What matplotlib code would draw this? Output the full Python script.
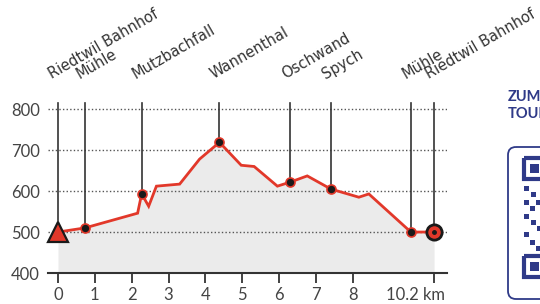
import numpy as np
import matplotlib.pyplot as plt
import matplotlib.transforms as mtransforms
from matplotlib.patches import FancyBboxPatch, Rectangle

# Höhenprofil (km, m ü. M.)
profile_km = [0, 0.73, 2.16, 2.27, 2.46, 2.67, 3.3, 3.84, 4.38, 4.97, 5.32,
              5.95, 6.3, 6.76, 7.4, 8.16, 8.43, 9.57, 10.2]
profile_elev = [500, 510, 546, 593, 563, 612, 617, 678, 719, 663, 660,
                612, 622, 637, 605, 585, 593, 500, 500]

# Stationen
station_names = ['Riedtwil Bahnhof', 'Mühle', 'Mutzbachfall', 'Wannenthal',
                 'Oschwand', 'Spych', 'Mühle', 'Riedtwil Bahnhof']
station_km = [0, 0.73, 2.27, 4.38, 6.3, 7.4, 9.57, 10.2]

x_ticks = [0, 1, 2, 3, 4, 5, 6, 7, 8, 10.2]
x_ticklabels = ['0', '1', '2', '3', '4', '5', '6', '7', '8', '10.2 km']
y_ticks = [400, 500, 600, 700, 800]

red = '#e2382a'
dark = '#333333'
blue = '#2f3a88'

fig = plt.figure(figsize=(5.4, 3.04), dpi=100)
fig.patch.set_facecolor('white')

# Hintergrund-Achse in Pixeln für Deko rechts
bg = fig.add_axes([0, 0, 1, 1])
bg.set_xlim(0, 540)
bg.set_ylim(304, 0)
bg.axis('off')

ax = fig.add_axes([48 / 540, 31 / 304, 399 / 540, 170 / 304])
ax.set_xlim(-0.27, 10.55)
ax.set_ylim(400, 815)
ax.patch.set_alpha(0)

for s in ['left', 'right', 'top']:
    ax.spines[s].set_visible(False)
ax.spines['bottom'].set_color(dark)
ax.spines['bottom'].set_linewidth(1.5)

# Gitterlinien
for y in y_ticks[1:]:
    ax.axhline(y, color='#555555', lw=1, ls=(0, (1, 1.6)), zorder=1)

# Fläche und Linie
ax.fill_between(profile_km, profile_elev, 400, color='#ebebeb', lw=0, zorder=0)
ax.plot(profile_km, profile_elev, color=red, lw=2, zorder=3, solid_joinstyle='miter')

# Stationen
station_elev = np.interp(station_km, profile_km, profile_elev)
for name, km, el in zip(station_names, station_km, station_elev):
    ax.plot([km, km], [el, 815], color=dark, lw=1.2, zorder=2, clip_on=False)
    ax.annotate(name, xy=(km, 1.0), xycoords=('data', 'axes fraction'),
                xytext=(-4, 17), textcoords='offset points',
                rotation=30, rotation_mode='anchor', ha='left', va='baseline',
                fontsize=10.5, color=dark, family='DejaVu Sans')

inner_km = station_km[1:-1]
inner_elev = station_elev[1:-1]
ax.plot(inner_km, inner_elev, 'o', ms=6.5, mfc='#1a1a1a', mec=red, mew=1.2, zorder=5)
ax.plot(station_km[0], station_elev[0], '^', ms=14, mfc=red, mec='#1a1a1a',
        mew=1.6, zorder=6, clip_on=False)
ax.plot(station_km[-1], station_elev[-1], 'o', ms=11, mfc=red, mec='#1a1a1a',
        mew=2, zorder=6, clip_on=False)
ax.plot(station_km[-1], station_elev[-1], 'o', ms=2.5, mfc='#1a1a1a',
        mec='#1a1a1a', zorder=7, clip_on=False)

# Achsen
ax.set_xticks(x_ticks)
ax.set_xticklabels(x_ticklabels)
ax.set_yticks(y_ticks)
ax.tick_params(axis='x', length=7, width=1.3, color=dark, pad=3,
               labelsize=12, labelcolor='#444444')
ax.tick_params(axis='y', length=0, pad=6, labelsize=12, labelcolor='#444444')
for lbl in ax.get_xticklabels() + ax.get_yticklabels():
    lbl.set_family(['Lato', 'DejaVu Sans'])
last = ax.get_xticklabels()[-1]
last.set_ha('right')
last.set_transform(last.get_transform() +
                   mtransforms.ScaledTranslation(11 / 100, 0, fig.dpi_scale_trans))

# Deko rechts: "ZUM TOUR" + QR-Box (im Original am Rand abgeschnitten)
bg.text(508, 97, 'ZUM', color=blue, fontsize=10.5, fontweight='bold',
        va='center', ha='left', family=['Lato', 'DejaVu Sans'])
bg.text(508, 114, 'TOUR', color=blue, fontsize=10.5, fontweight='bold',
        va='center', ha='left', family=['Lato', 'DejaVu Sans'])
bg.add_patch(FancyBboxPatch((508, 147), 60, 152, boxstyle='round,pad=0,rounding_size=8',
                            fc='none', ec=blue, lw=1.3))
for y0 in [158, 256]:
    bg.add_patch(Rectangle((524, y0), 21, 21, fc='none', ec=blue, lw=3))
    bg.add_patch(Rectangle((530, y0 + 6), 9, 9, fc=blue, ec='none'))
for (mx, my) in [(524, 186), (531, 192), (524, 200), (530, 206), (536, 200),
                 (524, 214), (531, 220), (537, 226), (524, 232), (530, 240), (536, 246)]:
    bg.add_patch(Rectangle((mx, my), 5, 5, fc=blue, ec='none'))

fig.savefig('out.png', dpi=100)
